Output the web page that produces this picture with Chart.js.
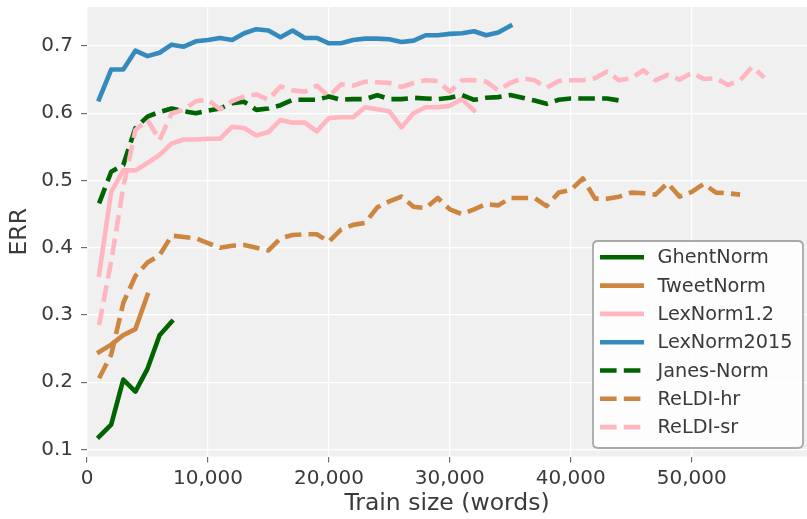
<!DOCTYPE html>
<html>
<head>
<meta charset="utf-8">
<script src="https://cdn.jsdelivr.net/npm/chart.js@4/dist/chart.umd.min.js"></script>
<style>
html,body{margin:0;padding:0;background:#fff;}
#wrap{width:807px;height:519px;position:relative;}
</style>
</head>
<body>
<div id="wrap"><canvas id="c" width="807" height="519"></canvas></div>
<script>
// ---- data ----
const trainSizes = [1000,2000,3000,4000,5000,6000,7000,8000,9000,10000,
  11000,12000,13000,14000,15000,16000,17000,18000,19000,20000,
  21000,22000,23000,24000,25000,26000,27000,28000,29000,30000,
  31000,32000,33000,34000,35000,36000,37000,38000,39000,40000,
  41000,42000,43000,44000,45000,46000,47000,48000,49000,50000,
  51000,52000,53000,54000,55000,56000];

const ghentNorm = [0.119,0.137,0.204,0.186,0.220,0.270,0.290];
const tweetNorm = [0.245,0.256,0.270,0.279,0.330];
const lexNorm12 = [0.360,0.483,0.515,0.515,0.526,0.538,0.555,0.561,0.561,0.562,
  0.562,0.580,0.578,0.567,0.572,0.590,0.586,0.586,0.573,0.593,
  0.594,0.594,0.609,0.606,0.603,0.579,0.600,0.609,0.609,0.611,
  0.621,0.604];
const lexNorm2015 = [0.621,0.665,0.665,0.693,0.685,0.690,0.702,0.699,0.707,0.709,
  0.712,0.709,0.719,0.725,0.723,0.713,0.723,0.712,0.712,0.704,
  0.704,0.709,0.711,0.711,0.710,0.706,0.708,0.716,0.716,0.718,
  0.719,0.722,0.716,0.720,0.730];
const janesNorm = [0.466,0.513,0.523,0.578,0.595,0.602,0.607,0.603,0.600,0.604,
  0.607,0.615,0.617,0.605,0.607,0.612,0.620,0.620,0.620,0.625,
  0.620,0.621,0.621,0.627,0.621,0.621,0.623,0.622,0.621,0.623,
  0.627,0.620,0.623,0.624,0.627,0.623,0.619,0.614,0.620,0.622,
  0.622,0.622,0.622,0.619];
const reldiHr = [0.206,0.241,0.318,0.358,0.378,0.389,0.418,0.416,0.414,0.407,
  0.400,0.403,0.404,0.400,0.396,0.414,0.419,0.420,0.420,0.409,
  0.427,0.434,0.437,0.460,0.469,0.476,0.461,0.459,0.474,0.457,
  0.450,0.457,0.465,0.463,0.474,0.474,0.474,0.462,0.482,0.486,
  0.503,0.473,0.473,0.476,0.482,0.481,0.479,0.496,0.476,0.483,
  0.495,0.482,0.481,0.479];
const reldiSr = [0.285,0.380,0.490,0.575,0.590,0.560,0.600,0.605,0.618,0.620,
  0.606,0.618,0.625,0.628,0.620,0.640,0.634,0.632,0.641,0.625,
  0.643,0.641,0.647,0.646,0.645,0.639,0.645,0.649,0.648,0.632,
  0.649,0.649,0.647,0.634,0.645,0.652,0.649,0.638,0.648,0.649,
  0.649,0.652,0.662,0.649,0.652,0.664,0.649,0.657,0.650,0.660,
  0.651,0.652,0.642,0.649,0.669,0.653];

const seriesNames = ['GhentNorm','TweetNorm','LexNorm1.2','LexNorm2015','Janes-Norm','ReLDI-hr','ReLDI-sr'];
const seriesValues = [ghentNorm,tweetNorm,lexNorm12,lexNorm2015,janesNorm,reldiHr,reldiSr];
const xTickValues = [0,10000,20000,30000,40000,50000];
const yTickValues = [0.1,0.2,0.3,0.4,0.5,0.6,0.7];

// ---- styles ----
const colors = ['#006400','#CD853F','#FFB6C1','#348ABD','#006400','#CD853F','#FFB6C1'];
const dashed = [false,false,false,false,true,true,true];
const LW = 4.6;
const DASH = [16.6,7.2];
const FONT = "'DejaVu Sans', sans-serif";
const TXT = '#3a3a3a';

const datasets = seriesNames.map((name,i)=>({
  label: name,
  data: seriesValues[i].map((v,j)=>({x: trainSizes[j], y: v})),
  borderColor: colors[i],
  backgroundColor: colors[i],
  borderWidth: LW,
  borderDash: dashed[i] ? DASH : [],
  borderCapStyle: dashed[i] ? 'butt' : 'square',
  borderJoinStyle: 'round',
  pointRadius: 0,
  tension: 0,
  fill: false,
  order: seriesNames.length - 1 - i
}));

const bgPlugin = {
  id: 'bg',
  beforeDraw(chart){
    const {ctx, chartArea:a} = chart;
    ctx.save();
    ctx.fillStyle = '#ffffff';
    ctx.fillRect(0,0,chart.width,chart.height);
    ctx.fillStyle = '#f0f0f0';
    ctx.fillRect(a.left,a.top,a.right-a.left,a.bottom-a.top);
    ctx.restore();
  }
};

const legendPlugin = {
  id: 'boxLegend',
  afterDatasetsDraw(chart){
    const ctx = chart.ctx;
    const x0 = 593, y0 = 241, w = 210, h = 207, r = 5;
    ctx.save();
    ctx.beginPath();
    ctx.moveTo(x0+r,y0);
    ctx.lineTo(x0+w-r,y0); ctx.quadraticCurveTo(x0+w,y0,x0+w,y0+r);
    ctx.lineTo(x0+w,y0+h-r); ctx.quadraticCurveTo(x0+w,y0+h,x0+w-r,y0+h);
    ctx.lineTo(x0+r,y0+h); ctx.quadraticCurveTo(x0,y0+h,x0,y0+h-r);
    ctx.lineTo(x0,y0+r); ctx.quadraticCurveTo(x0,y0,x0+r,y0);
    ctx.closePath();
    ctx.fillStyle = 'rgba(255,255,255,0.85)';
    ctx.fill();
    ctx.strokeStyle = '#a9a9a9';
    ctx.lineWidth = 1.8;
    ctx.stroke();
    chart.data.datasets.forEach((ds,i)=>{
      const cy = 257.3 + i*28.3;
      ctx.beginPath();
      ctx.setLineDash(ds.borderDash);
      ctx.lineCap = 'butt';
      ctx.strokeStyle = ds.borderColor;
      ctx.lineWidth = LW;
      ctx.moveTo(600,cy); ctx.lineTo(644,cy);
      ctx.stroke();
      ctx.setLineDash([]);
      ctx.fillStyle = TXT;
      ctx.font = "19.3px " + FONT;
      ctx.textAlign = 'left';
      ctx.textBaseline = 'middle';
      ctx.fillText(ds.label, 657.5, cy+1);
    });
    ctx.restore();
  }
};

new Chart(document.getElementById('c'), {
  type: 'line',
  data: { datasets },
  options: {
    responsive: false,
    animation: false,
    devicePixelRatio: 1,
    layout: { padding: { top: 7, right: 0, left: 0, bottom: 0 } },
    plugins: { legend: { display: false }, tooltip: { enabled: false } },
    scales: {
      x: {
        type: 'linear',
        min: 0, max: 59530,
        afterBuildTicks(s){ s.ticks = xTickValues.map(v=>({value:v})); },
        afterFit(s){ s.height = 62.5; s.paddingLeft = 0; s.paddingRight = 0; },
        grid: { color: '#ffffff', lineWidth: 1.3, drawTicks: true, tickColor: '#555555', tickLength: 6, tickWidth: 1 },
        border: { display: false },
        ticks: {
          font: { family: FONT, size: 20 }, color: TXT, padding: 4, maxRotation: 0,
          callback: v => v.toLocaleString('en-US')
        },
        title: { display: true, text: 'Train size (words)', font: { family: FONT, size: 23.5 }, color: TXT, padding: { top: 0, bottom: 1 } }
      },
      y: {
        type: 'linear',
        min: 0.0896, max: 0.758,
        afterBuildTicks(s){ s.ticks = yTickValues.map(v=>({value:v})); },
        afterFit(s){ s.width = 87; s.paddingTop = 0; s.paddingBottom = 0; },
        grid: { color: '#ffffff', lineWidth: 1.3, drawTicks: true, tickColor: '#555555', tickLength: 6, tickWidth: 1 },
        border: { display: false },
        ticks: {
          font: { family: FONT, size: 20 }, color: TXT, padding: 8,
          callback: v => v.toFixed(1)
        },
        title: { display: true, text: 'ERR', font: { family: FONT, size: 23.5 }, color: TXT, padding: { top: 6, bottom: 0 } }
      }
    }
  },
  plugins: [bgPlugin, legendPlugin]
});
</script>
</body>
</html>
